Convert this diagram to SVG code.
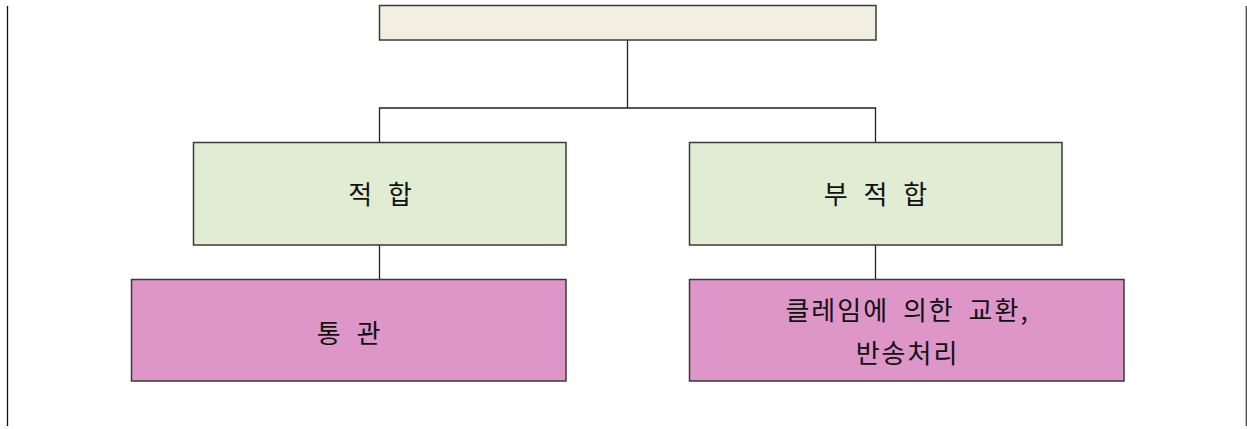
<svg xmlns="http://www.w3.org/2000/svg" width="1247" height="429" viewBox="0 0 1247 429">
<style>
.box{stroke:#3a3a3a;stroke-width:1.5}
.top{fill:#f2eee2}
.green{fill:#e0edd3}
.pink{fill:#de95c8}
.conn{stroke:#222;stroke-width:1.3;fill:none}
.t{font-family:"Noto Sans CJK KR","Noto Sans",sans-serif;font-size:26px;letter-spacing:2px;word-spacing:6px;fill:#111;text-anchor:middle}
</style>
<rect width="1247" height="429" fill="#fff"/>
<line x1="7.5" y1="6" x2="7.5" y2="426" stroke="#111" stroke-width="1.3"/>
<line x1="1246.3" y1="6" x2="1246.3" y2="426" stroke="#444" stroke-width="1.3"/>
<g id="connectors">
<path class="conn" d="M627.5 40V108M379.5 142V108H875.5V142"/>
<path class="conn" d="M379.5 245V279"/>
<path class="conn" d="M875.5 245V279"/>
</g>
<g id="root"><rect class="box top" x="379.5" y="5.5" width="496.5" height="34.5"/></g>
<g id="fit"><rect class="box green" x="193.5" y="142.5" width="372.5" height="102.5"/><text class="t" x="381" y="204">적 합</text></g>
<g id="unfit"><rect class="box green" x="689.5" y="142.5" width="372.5" height="102.5"/><text class="t" x="876.5" y="204">부 적 합</text></g>
<g id="customs"><rect class="box pink" x="131.5" y="279.5" width="434.5" height="101.5"/><text class="t" x="349.5" y="343">통 관</text></g>
<g id="claim"><rect class="box pink" x="689.5" y="279.5" width="434.5" height="101.5"/><text class="t" x="907.5" y="320">클레임에 의한 교환,</text><text class="t" x="907.5" y="363">반송처리</text></g>
</svg>
